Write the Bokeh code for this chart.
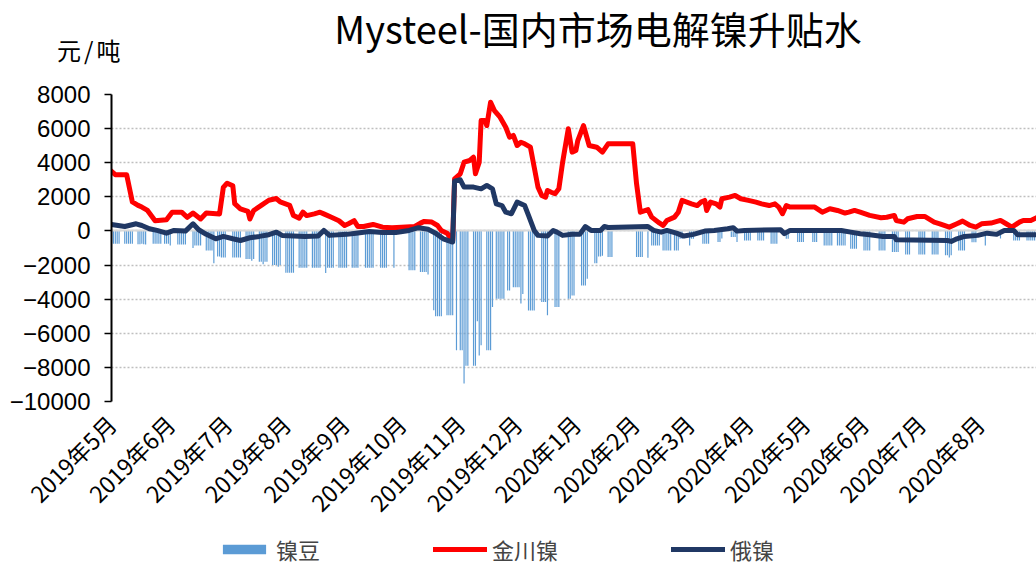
from math import pi
import pandas as pd
from bokeh.plotting import figure
from bokeh.layouts import column
from bokeh.models import (Range1d, FixedTicker, Legend, LegendItem, Div, ColumnDataSource)
from bokeh.embed import file_html
from bokeh.resources import INLINE

title_text = "Mysteel-国内市场电解镍升贴水"
unit_text = "元/吨"
series_names = ["镍豆", "金川镍", "俄镍"]
series_colors = ["#5B9BD5", "#FF0000", "#203864"]

# 金川镍 (red)
jc_dates = ["2019-05-06", "2019-05-08", "2019-05-14", "2019-05-17", "2019-05-20", "2019-05-22", "2019-05-25",
            "2019-05-29", "2019-06-04", "2019-06-07", "2019-06-12", "2019-06-15", "2019-06-18", "2019-06-22",
            "2019-06-25", "2019-07-02", "2019-07-04", "2019-07-06", "2019-07-09", "2019-07-10", "2019-07-13",
            "2019-07-17", "2019-07-18", "2019-07-20", "2019-07-24", "2019-07-28", "2019-08-01", "2019-08-03",
            "2019-08-08", "2019-08-10", "2019-08-13", "2019-08-15", "2019-08-17", "2019-08-21", "2019-08-24",
            "2019-08-26", "2019-08-30", "2019-09-03", "2019-09-06", "2019-09-08", "2019-09-11", "2019-09-13",
            "2019-09-16", "2019-09-21", "2019-09-26", "2019-10-01", "2019-10-06", "2019-10-13", "2019-10-16",
            "2019-10-18", "2019-10-22", "2019-10-25", "2019-10-27", "2019-10-30", "2019-11-02", "2019-11-03",
            "2019-11-06", "2019-11-08", "2019-11-11", "2019-11-13", "2019-11-14", "2019-11-16", "2019-11-17",
            "2019-11-19", "2019-11-20", "2019-11-22", "2019-11-24", "2019-11-27", "2019-11-30", "2019-12-02",
            "2019-12-04", "2019-12-06", "2019-12-08", "2019-12-10", "2019-12-13", "2019-12-15", "2019-12-17",
            "2019-12-19", "2019-12-21", "2019-12-22", "2019-12-24", "2019-12-26", "2019-12-28", "2019-12-30",
            "2020-01-02", "2020-01-04", "2020-01-06", "2020-01-07", "2020-01-10", "2020-01-13", "2020-01-17",
            "2020-01-20", "2020-01-23", "2020-02-05", "2020-02-07", "2020-02-09", "2020-02-13", "2020-02-15",
            "2020-02-19", "2020-02-21", "2020-02-23", "2020-02-27", "2020-02-29", "2020-03-02", "2020-03-07",
            "2020-03-10", "2020-03-12", "2020-03-14", "2020-03-15", "2020-03-17", "2020-03-20", "2020-03-22",
            "2020-03-23", "2020-03-27", "2020-03-30", "2020-04-02", "2020-04-06", "2020-04-10", "2020-04-13",
            "2020-04-17", "2020-04-20", "2020-04-22", "2020-04-24", "2020-04-26", "2020-04-28", "2020-05-11",
            "2020-05-15", "2020-05-19", "2020-05-23", "2020-05-27", "2020-05-29", "2020-06-01", "2020-06-04",
            "2020-06-09", "2020-06-15", "2020-06-18", "2020-06-22", "2020-06-23", "2020-06-27", "2020-06-29",
            "2020-07-04", "2020-07-08", "2020-07-13", "2020-07-16", "2020-07-21", "2020-07-25", "2020-07-28",
            "2020-08-01", "2020-08-04", "2020-08-07", "2020-08-12", "2020-08-17", "2020-08-20", "2020-08-23",
            "2020-08-27", "2020-08-29", "2020-09-02", "2020-09-05"]
jc_vals = [3500, 3300, 3300, 1700, 1500, 1400, 1200,
           600, 650, 1100, 1100, 800, 1050, 700,
           1050, 1000, 2550, 2800, 2650, 1600, 1300,
           1150, 700, 1200, 1500, 1800, 1900, 1700,
           1500, 900, 750, 1100, 900, 1000, 1100,
           1000, 800, 600, 320, 420, 600, 260,
           260, 380, 220, 190, 220, 260, 460,
           560, 520, 320, 30, -130, -550, 3050,
           3350, 4030, 4130, 4320, 3350, 4030, 6475,
           6475, 6180, 7550, 7060, 6670, 6080, 5500,
           5600, 5010, 5200, 5110, 4910, 3740, 2570,
           2080, 1980, 2370, 2270, 2180, 2470, 4030,
           5990, 4620, 4720, 5300, 6180, 5010, 4910,
           4620, 5110, 5110, 2770, 1100, 1250, 810,
           470, 320, 615, 810, 1100, 1790, 1590,
           1490, 1690, 1790, 1200, 1690, 1590, 1400,
           1890, 1980, 2080, 1890, 1790, 1690, 1590,
           1490, 1590, 1400, 1010, 1490, 1400, 1400,
           1100, 1300, 1200, 1050, 1100, 1200, 1100,
           910, 770, 800, 910, 615, 516, 714,
           850, 850, 516, 420, 223, 420, 575,
           322, 223, 420, 460, 615, 420, 223,
           516, 615, 615, 770]

# 俄镍 (navy)
ru_dates = ["2019-05-06", "2019-05-13", "2019-05-19", "2019-05-22", "2019-05-26", "2019-05-30", "2019-06-04",
            "2019-06-08", "2019-06-14", "2019-06-18", "2019-06-21", "2019-06-25", "2019-06-30", "2019-07-04",
            "2019-07-09", "2019-07-13", "2019-07-18", "2019-07-23", "2019-07-28", "2019-08-01", "2019-08-04",
            "2019-08-16", "2019-08-23", "2019-08-26", "2019-08-29", "2019-09-07", "2019-09-12", "2019-09-19",
            "2019-09-26", "2019-10-03", "2019-10-10", "2019-10-15", "2019-10-20", "2019-10-24", "2019-10-28",
            "2019-11-02", "2019-11-03", "2019-11-06", "2019-11-08", "2019-11-13", "2019-11-17", "2019-11-20",
            "2019-11-23", "2019-11-25", "2019-11-28", "2019-11-30", "2019-12-03", "2019-12-06", "2019-12-10",
            "2019-12-12", "2019-12-15", "2019-12-17", "2019-12-22", "2019-12-25", "2019-12-27", "2019-12-30",
            "2020-01-04", "2020-01-08", "2020-01-11", "2020-01-14", "2020-01-19", "2020-01-21", "2020-01-23",
            "2020-02-13", "2020-02-16", "2020-02-20", "2020-02-23", "2020-02-28", "2020-03-03", "2020-03-08",
            "2020-03-14", "2020-03-19", "2020-03-26", "2020-03-29", "2020-03-31", "2020-04-04", "2020-04-23",
            "2020-04-25", "2020-04-28", "2020-05-25", "2020-05-30", "2020-06-04", "2020-06-09", "2020-06-16",
            "2020-06-22", "2020-06-23", "2020-07-20", "2020-07-22", "2020-07-25", "2020-07-29", "2020-08-05",
            "2020-08-10", "2020-08-15", "2020-08-19", "2020-08-24", "2020-08-26", "2020-09-05"]
ru_vals = [380, 260, 420, 320, 130, 30, -130,
           30, -10, 420, 70, -200, -460, -320,
           -460, -560, -400, -320, -220, -70, -260,
           -320, -300, 30, -260, -200, -130, -30,
           -90, -90, 30, 190, 100, -130, -460,
           -650, 2920, 3000, 2570, 2570, 2470, 2670,
           2470, 1590, 1490, 1100, 1010, 1690, 1490,
           910, 30, -260, -300, 30, -70, -260,
           -200, -200, 260, 30, 30, 260, 200,
           260, 30, -70, 30, -130, -300, -200,
           -10, 30, 130, 190, -10, 30, 70,
           -160, 30, 30, -70, -160, -220, -320,
           -320, -520, -560, -615, -460, -320, -260,
           -130, -200, 30, 30, -220, -220]

# 镍豆 (bars): start date of each run of consecutive daily quotes, and the quotes
bean_starts = ["2019-05-06", "2019-05-13", "2019-05-20", "2019-05-28", "2019-06-03", "2019-06-10", "2019-06-18",
               "2019-06-25", "2019-07-01", "2019-07-09", "2019-07-16", "2019-07-23", "2019-07-30", "2019-08-06",
               "2019-08-13", "2019-08-20", "2019-08-27", "2019-09-03", "2019-09-10", "2019-09-17", "2019-09-25",
               "2019-10-02", "2019-10-10", "2019-10-16", "2019-10-23", "2019-10-30", "2019-11-04", "2019-11-06",
               "2019-11-13", "2019-11-20", "2019-11-25", "2019-12-01", "2019-12-04", "2019-12-12", "2019-12-19",
               "2019-12-26", "2020-01-02", "2020-01-09", "2020-01-16", "2020-01-23", "2020-02-07", "2020-02-13",
               "2020-02-15", "2020-02-21", "2020-02-27", "2020-03-06", "2020-03-13", "2020-03-21", "2020-03-28",
               "2020-04-04", "2020-04-11", "2020-04-18", "2020-04-26", "2020-05-02", "2020-05-10", "2020-05-16",
               "2020-05-23", "2020-05-30", "2020-06-06", "2020-06-14", "2020-06-21", "2020-06-28", "2020-07-05",
               "2020-07-12", "2020-07-19", "2020-07-26", "2020-08-02", "2020-08-09", "2020-08-17", "2020-08-24",
               "2020-08-31"]
bean_vals = [[-700, -750, -750, -750, -750], [-750, -750, -750, -750, -750], [-780, -780, -750, -780, -800],
             [-750, -750, -750, -750, -750], [-750, -750, -750, -850], [-800, -800, -800, -800, -800],
             [-1000, -850, -850, -850, -850], [-1150, -1150, -1150, -1150, -1900], [-1500, -1500, -1550, -1550, -1550],
             [-1550, -1550, -1550, -1550, -1550], [-1650, -1650, -1650, -1750, -1650], [-1800, -1800, -1950, -1800, -1800],
             [-2000, -2000, -2000, -2100, -2000], [-2450, -2450, -2450, -2450, -2450], [-2160, -2160, -2160, -2160, -2160],
             [-2160, -2160, -2160, -2160, -2160], [-2470, -2160, -2160, -2160, -2160], [-2160, -2160, -2160, -2160, -2160],
             [-2160, -2160, -2160, -2160], [-2160, -2160, -2160, -2160, -2160], [-2160, -2160, -2160, -2160],
             [-2160], [-2300, -2300, -2300, -2300], [-2400, -2400, -2400, -2400, -2550],
             [-4650, -5000, -5000, -5000, -5000], [-4950, -4950, -4950, -4950], [-7000],
             [-7000, -7000, -8950, -7900, -7900], [-7900, -7900, -5300, -7300, -6700], [-7000, -7000, -7000, -4460],
             [-3970, -3970, -3970, -3970, -3970], [-3490, -3490], [-3300, -3300, -3300, -3300, -4260, -3700],
             [-4660, -4660, -4660, -4660], [-4170, -4170, -4170, -4950], [-4460, -4460, -4460],
             [-3970, -3970, -3780, -3780], [-3200, -3200, -3200, -2800], [-1900, -1900, -1500, -1500, -1450],
             [-1535, -1535, -1535], [-1535, -1535, -1535, -1535], [-1570],
             [-850, -850, -850, -850, -850], [-1143, -1143, -1143, -1143, -1143], [-1143, -1143, -1143, -457, -457],
             [-850, -457, -457], [-750, -750, -750, -750], [-650, -650, -450],
             [-350, -350, -350, -650], [-557, -557, -557, -557], [-557, -557, -557, -557],
             [-750, -750, -750, -750], [-457, -457], [-650, -650, -650, -650],
             [-650, -650, -650], [-850, -850, -850, -850, -850], [-850, -850, -850, -850, -850],
             [-1045, -1045, -1045, -1045], [-1143, -1143, -1143, -1143], [-1143, -1143, -1143, -1143],
             [-1240, -1240, -1240, -1240], [-1377, -1377, -1377], [-1377, -1377, -1377, -1377],
             [-1377, -1377, -1377, -1377], [-1430, -1430, -1560, -1430], [-1143, -1143, -1143, -1143],
             [-656, -656, -656], [-850], [-450], [-557, -557, -557, -557], [-557, -557, -557, -557, -557]]

month_ticks = ["2019-05-06", "2019-06-06", "2019-07-06", "2019-08-06", "2019-09-06", "2019-10-06", "2019-11-06",
               "2019-12-06", "2020-01-06", "2020-02-06", "2020-03-06", "2020-04-06", "2020-05-06", "2020-06-06",
               "2020-07-06", "2020-08-06"]
month_labels = ["2019年5月", "2019年6月", "2019年7月", "2019年8月", "2019年9月", "2019年10月", "2019年11月",
                "2019年12月", "2020年1月", "2020年2月", "2020年3月", "2020年4月", "2020年5月", "2020年6月",
                "2020年7月", "2020年8月"]
y_ticks = [-10000, -8000, -6000, -4000, -2000, 0, 2000, 4000, 6000, 8000]
y_labels = ["−10000", "−8000", "−6000", "−4000", "−2000", "0", "2000", "4000", "6000", "8000"]

x_start, x_end = "2019-05-06", "2020-09-05"

# ---- build ----
bar_x, bar_top = [], []
for s, vals in zip(bean_starts, bean_vals):
    d0 = pd.Timestamp(s)
    for i, v in enumerate(vals):
        bar_x.append(d0 + pd.Timedelta(days=i))
        bar_top.append(v)
bar_src = ColumnDataSource(dict(x=bar_x, top=bar_top))
jc_src = ColumnDataSource(dict(x=pd.to_datetime(jc_dates), y=jc_vals))
ru_src = ColumnDataSource(dict(x=pd.to_datetime(ru_dates), y=ru_vals))

CJK = "Noto Sans CJK SC"
W, H_TOP, H_MAIN, H_LEG = 1036, 80, 453, 32
BORDER_TOP, BORDER_BOTTOM = 14, 132

# header: title and unit as HTML text
head_html = (
    f'<div style="position:relative;width:{W}px;height:{H_TOP}px;margin:0;padding:0;overflow:visible;">'
    f'<div style="position:absolute;left:598px;top:0px;transform:translateX(-50%);'
    f'font-family:\'{CJK}\';font-size:38px;line-height:normal;white-space:nowrap;color:#000;">{title_text}</div>'
    f'<div style="position:absolute;left:57px;top:32px;'
    f'font-family:\'{CJK}\';font-size:24px;line-height:normal;letter-spacing:3px;white-space:nowrap;color:#000;">{unit_text}</div>'
    f'</div>'
)
head = Div(text=head_html, width=W, height=H_TOP, margin=0)

x_rng = Range1d(pd.Timestamp(x_start), pd.Timestamp(x_end))
p = figure(width=W, height=H_MAIN, x_axis_type="datetime", output_backend="svg", toolbar_location=None,
           x_range=x_rng, y_range=Range1d(-10000, 8000),
           min_border_left=111, min_border_right=0, min_border_top=BORDER_TOP, min_border_bottom=BORDER_BOTTOM,
           background_fill_color="white", border_fill_color="white", margin=0)
p.outline_line_color = None

bars = p.vbar(x="x", top="top", bottom=0, width=0.62 * 86400000, source=bar_src,
              fill_color=series_colors[0], line_color=None)
p.hspan(y=[0], line_color="#D9D9D9", line_width=2)
jc = p.line("x", "y", source=jc_src, line_color=series_colors[1], line_width=5, line_join="round", line_cap="round")
ru = p.line("x", "y", source=ru_src, line_color=series_colors[2], line_width=5, line_join="round", line_cap="round")

# axes
tick_ms = [int(pd.Timestamp(t).value // 10**6) for t in month_ticks]
xa = p.xaxis[0]
xa.ticker = FixedTicker(ticks=tick_ms)
xa.major_label_overrides = {k: v for k, v in zip(tick_ms, month_labels)}
xa.major_label_orientation = pi / 4
xa.axis_line_color = None
xa.major_tick_line_color = None
xa.major_tick_out = 0
xa.major_tick_in = 0
xa.minor_tick_line_color = None
xa.minor_tick_out = 0
xa.major_label_text_font = CJK
xa.major_label_text_font_size = "23px"
xa.major_label_text_color = "black"
xa.major_label_standoff = 18

ya = p.yaxis[0]
ya.ticker = FixedTicker(ticks=y_ticks)
ya.major_label_overrides = {k: v for k, v in zip(y_ticks, y_labels)}
ya.axis_line_color = "black"
ya.axis_line_width = 2
ya.major_tick_line_color = "black"
ya.major_tick_line_width = 1.5
ya.major_tick_out = 7
ya.major_tick_in = 0
ya.minor_tick_line_color = None
ya.major_label_standoff = 14
ya.major_label_text_font = "Liberation Sans"
ya.major_label_text_font_size = "24px"
ya.major_label_text_color = "black"

p.xgrid.grid_line_color = None
p.ygrid.grid_line_color = "#BFBFBF"
p.ygrid.grid_line_dash = "2 2"
p.ygrid.grid_line_width = 1.5

# legend strip: draws the same three series through a window they never reach, so only the key shows
leg = figure(width=W, height=H_LEG, x_axis_type="datetime", x_range=x_rng, y_range=Range1d(50000, 50001),
             x_axis_location=None, y_axis_location=None, output_backend="svg", toolbar_location=None,
             min_border=0, background_fill_color="white", border_fill_color="white", margin=0)
leg.outline_line_color = None
leg.grid.visible = False
k_bar = leg.vbar(x="x", top="top", bottom=0, width=0.62 * 86400000, source=bar_src,
                 fill_color=series_colors[0], line_color=None)
k_jc = leg.line("x", "y", source=jc_src, line_color=series_colors[1], line_width=5, line_cap="round")
k_ru = leg.line("x", "y", source=ru_src, line_color=series_colors[2], line_width=5, line_cap="round")
legend = Legend(items=[LegendItem(label=series_names[0], renderers=[k_bar]),
                       LegendItem(label=series_names[1], renderers=[k_jc]),
                       LegendItem(label=series_names[2], renderers=[k_ru])],
                orientation="horizontal", location=(106, 0), border_line_color=None,
                background_fill_alpha=0, padding=0, margin=0, spacing=113,
                glyph_width=54, glyph_height=12, label_standoff=5,
                label_text_font=CJK, label_text_font_size="22px")
leg.add_layout(legend, "center")

layout = column(head, p, leg, spacing=0)
open("out.html", "w").write(file_html(layout, INLINE))
